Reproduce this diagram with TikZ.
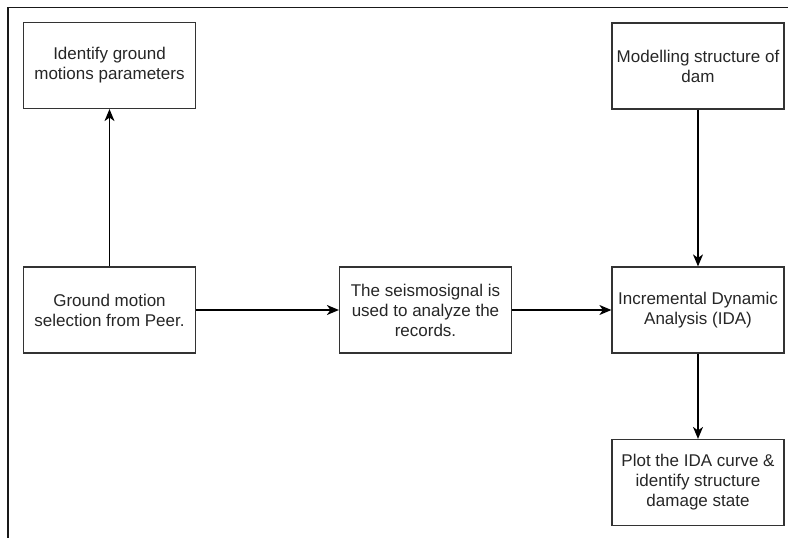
\documentclass[tikz,border=0pt]{standalone}
\usepackage{fontspec}
\setmainfont{Liberation Sans}
\usetikzlibrary{arrows.meta}
\begin{document}
\begin{tikzpicture}[x=1pt,y=-1pt,
  box/.style={draw=black!80, line width=1.2pt, minimum width=172pt, minimum height=86pt,
    align=center, inner sep=1pt, text=black!85,
    font=\fontsize{17pt}{20pt}\selectfont},
  conn/.style={draw=black, line width=1.2pt, -{Stealth[length=12pt,width=10pt,inset=3.5pt]}},
  frame/.style={draw=black!90, line width=1.1pt}]
\useasboundingbox (0,0) rectangle (788,538);
\coordinate (ftr) at (788,7.5);
\coordinate (ftl) at (8,7.5);
\coordinate (fbl) at (8,538);
\draw[frame] (ftr) -- (ftl) -- (fbl);
\node[box] (idg) at (109.5,65.5) {Identify ground\\motions parameters};
\node[box] (mod) at (698,66) {Modelling structure of\\dam};
\node[box] (gm) at (109.5,310) {Ground motion\\selection from Peer.};
\node[box] (seis) at (425.5,310) {The seismosignal is\\used to analyze the\\records.};
\node[box] (ida) at (698,310) {Incremental Dynamic\\Analysis (IDA)};
\node[box] (plot) at (698,482.5) {Plot the IDA curve \&\\identify structure\\damage state};
\draw[conn] (gm) -- (idg);
\draw[conn] (gm) -- (seis);
\draw[conn] (seis) -- (ida);
\draw[conn] (mod) -- (ida);
\draw[conn] (ida) -- (plot);
\end{tikzpicture}
\end{document}
